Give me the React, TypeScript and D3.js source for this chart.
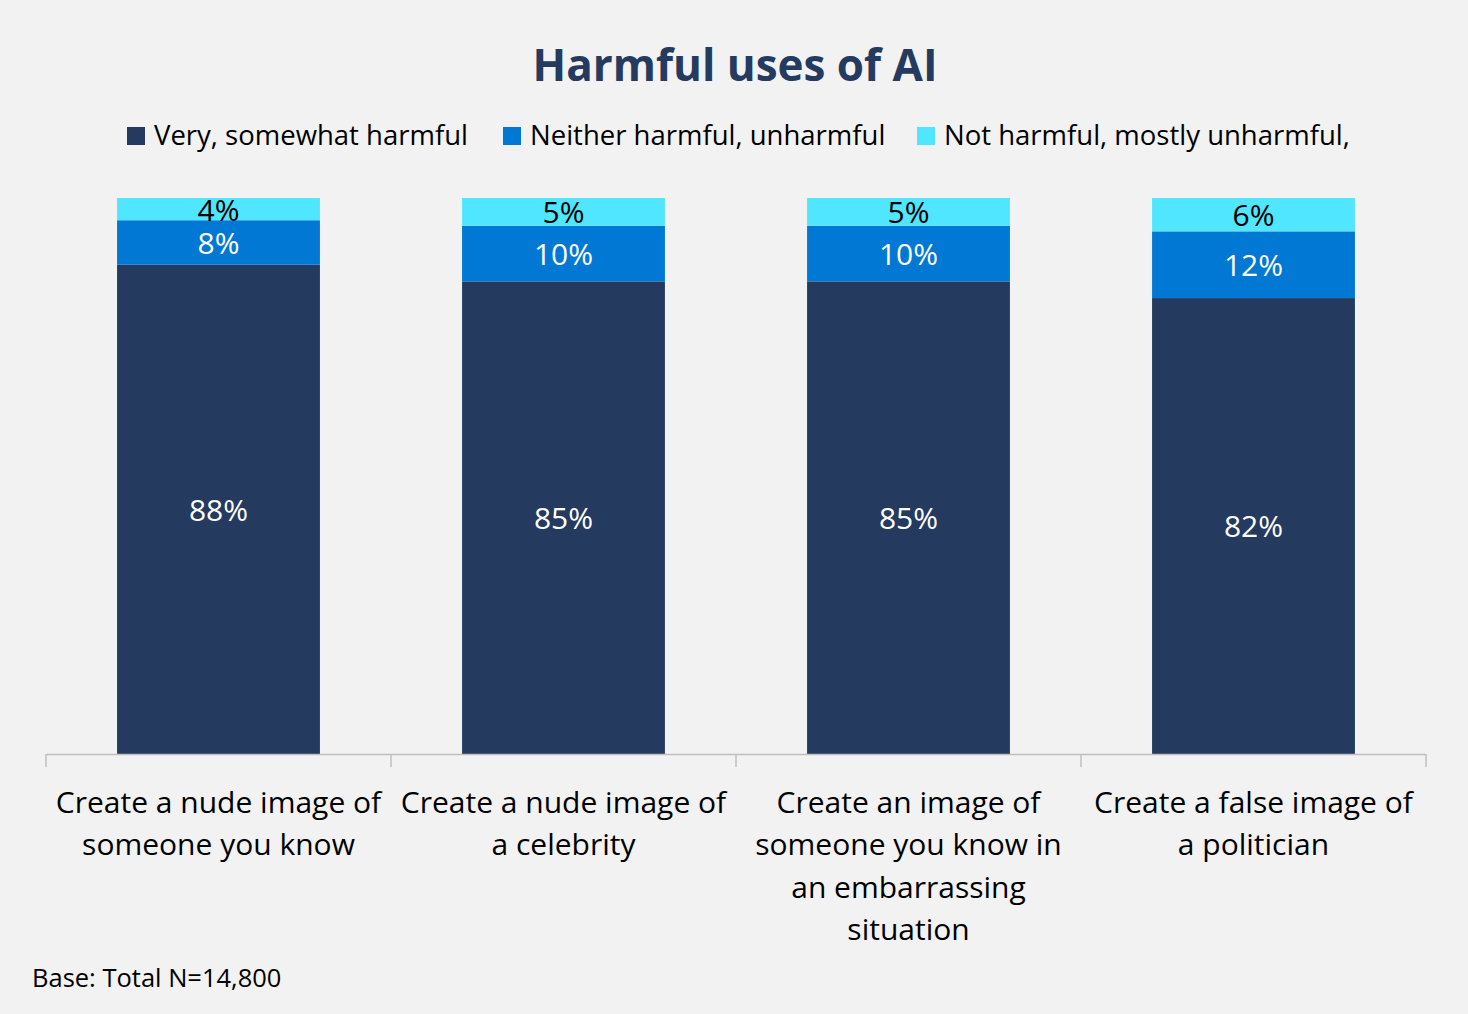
import React from "react";
import * as d3 from "d3";

const categories = [
  "Create a nude image of someone you know",
  "Create a nude image of a celebrity",
  "Create an image of someone you know in an embarrassing situation",
  "Create a false image of a politician",
];
const categoryLines = [
  ["Create a nude image of", "someone you know"],
  ["Create a nude image of", "a celebrity"],
  ["Create an image of", "someone you know in", "an embarrassing", "situation"],
  ["Create a false image of", "a politician"],
];
const seriesNames = [
  "Very, somewhat harmful",
  "Neither harmful, unharmful",
  "Not harmful, mostly unharmful,",
];
const veryHarmful = [88, 85, 85, 82];
const neither = [8, 10, 10, 12];
const notHarmful = [4, 5, 5, 6];
const colors = ["#243a5e", "#0078d4", "#50e6ff"];
const labelColors = ["#ffffff", "#ffffff", "#000000"];

const W = 1468;
const H = 1014;
const FONT = "'Open Sans', 'Noto Sans', sans-serif";

export default function App() {
  const x = d3.scaleBand<string>().domain(categories).range([46, 1426]).padding(0);
  const y = d3.scaleLinear().domain([0, 100]).range([754, 198]);
  const barW = x.step() * 0.588;

  const rows = categories.map((c, i) => ({
    cat: c,
    v0: veryHarmful[i],
    v1: neither[i],
    v2: notHarmful[i],
  }));
  const stack = d3.stack<any>().keys(["v0", "v1", "v2"])(rows);

  const legendX = [127, 503, 917];
  const ticks = [...categories.map((c) => x(c)!), 1426];

  return (
    <svg width={W} height={H} style={{ display: "block", position: "absolute", left: 0, top: 0 }}>
      <rect x={0} y={0} width={W} height={H} fill="#f2f2f2" />
      <text x={735} y={81} textAnchor="middle" fontFamily={FONT} fontWeight={700} fontSize={44} fill="#243a5e">
        Harmful uses of AI
      </text>
      {seriesNames.map((s, i) => (
        <g key={s}>
          <rect x={legendX[i]} y={127} width={18} height={18} fill={colors[i]} />
          <text x={legendX[i] + 27} y={145} fontFamily={FONT} fontSize={27.5} fill="#000">
            {s}
          </text>
        </g>
      ))}
      {stack.map((layer, li) => (
        <g key={li}>
          {layer.map((d, ci) => {
            const cx = x(categories[ci])! + x.step() / 2;
            const y0 = y(d[0]);
            const y1 = y(d[1]);
            return (
              <g key={ci}>
                <rect x={cx - barW / 2} y={y1} width={barW} height={y0 - y1} fill={colors[li]} />
                <text
                  x={cx}
                  y={(y0 + y1) / 2}
                  dy="0.38em"
                  textAnchor="middle"
                  fontFamily={FONT}
                  fontSize={30}
                  fill={labelColors[li]}
                >
                  {`${d[1] - d[0]}%`}
                </text>
              </g>
            );
          })}
        </g>
      ))}
      <line x1={46} x2={1426} y1={754.5} y2={754.5} stroke="#bfbfbf" strokeWidth={1.5} />
      {ticks.map((t, i) => (
        <line key={i} x1={t} x2={t} y1={754} y2={767} stroke="#bfbfbf" strokeWidth={1.5} />
      ))}
      {categoryLines.map((lines, ci) => (
        <text
          key={ci}
          textAnchor="middle"
          fontFamily={FONT}
          fontSize={30}
          fill="#000"
        >
          {lines.map((l, li) => (
            <tspan key={li} x={x(categories[ci])! + x.step() / 2} y={813 + li * 42.3}>
              {l}
            </tspan>
          ))}
        </text>
      ))}
      <text x={32} y={987} fontFamily={FONT} fontSize={25.5} fill="#000">
        Base: Total N=14,800
      </text>
    </svg>
  );
}
